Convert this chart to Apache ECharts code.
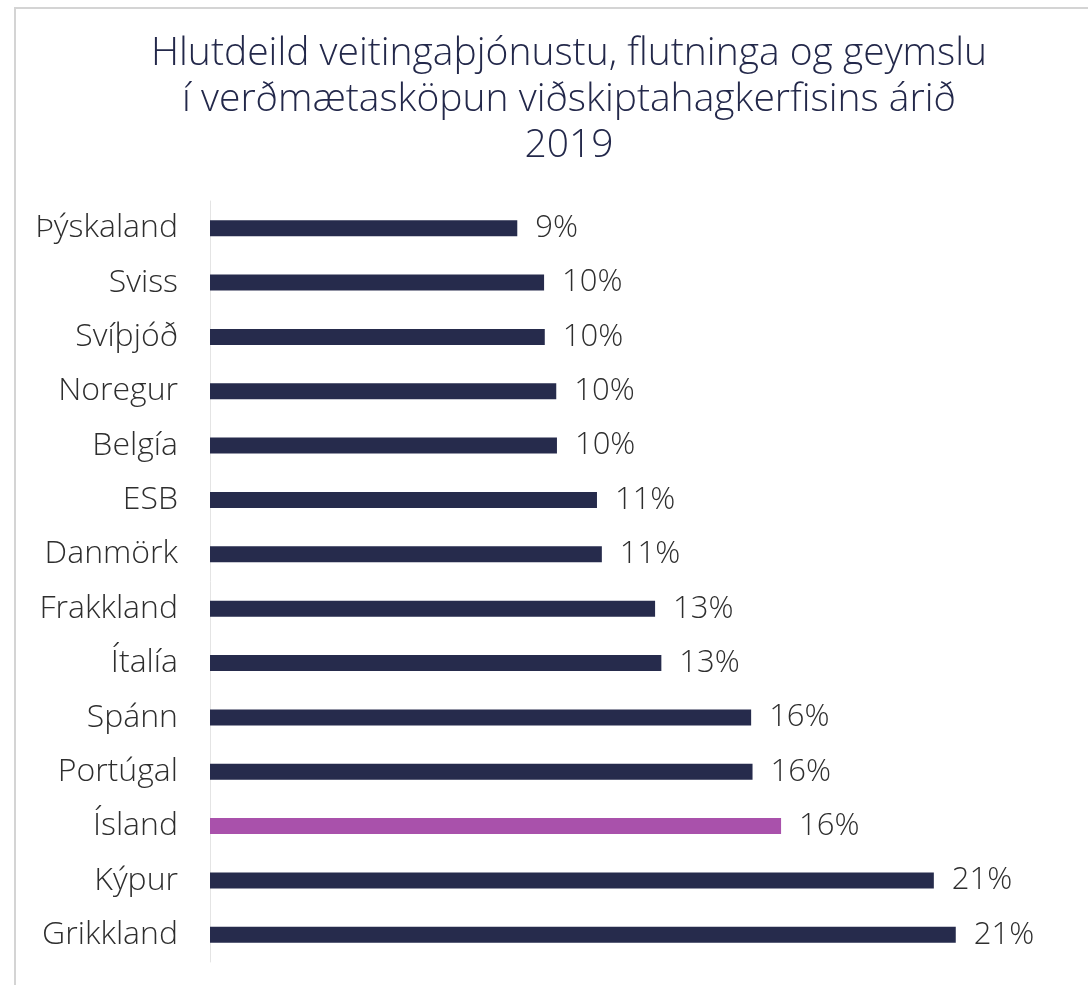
<!DOCTYPE html>
<html>
<head>
<meta charset="utf-8">
<script src="https://cdn.jsdelivr.net/npm/echarts@6/dist/echarts.min.js"></script>
<style>
  html, body { margin: 0; padding: 0; background: #fff; }
  #frame { position: absolute; left: 14px; top: 7px; right: 0; bottom: 0;
           border-left: 2px solid #d4d4d4; border-top: 2px solid #d4d4d4; }
  #main { position: absolute; left: 0; top: 0; width: 1088px; height: 985px; }
</style>
</head>
<body>
<div id="frame"></div>
<div id="main"></div>
<script>
// 國家 (由上而下)
const countries = ['Þýskaland', 'Sviss', 'Svíþjóð', 'Noregur', 'Belgía', 'ESB', 'Danmörk',
  'Frakkland', 'Ítalía', 'Spánn', 'Portúgal', 'Ísland', 'Kýpur', 'Grikkland'];
// 占比 (%)
const shares = [8.83, 9.60, 9.62, 9.95, 9.97, 11.12, 11.26, 12.79, 12.97, 15.55, 15.59, 16.41, 20.80, 21.43];
const highlight = 'Ísland';

const titleText = 'Hlutdeild veitingaþjónustu, flutninga og geymslu\ní verðmætasköpun viðskiptahagkerfisins árið\n2019';

const myChart = echarts.init(document.getElementById('main'));

const option = {
  backgroundColor: 'transparent',
  animation: false,
  title: {
    text: titleText,
    left: 564,
    top: 26,
    textAlign: 'center',
    textStyle: {
      fontFamily: 'Open Sans',
      fontWeight: 300,
      fontSize: 39,
      lineHeight: 46,
      color: '#23284a'
    }
  },
  grid: { left: 210, right: 8, top: 201, bottom: 23 },
  xAxis: {
    type: 'value',
    min: 0,
    max: 25,
    show: false
  },
  yAxis: {
    type: 'category',
    inverse: true,
    data: countries,
    axisLine: { show: true, lineStyle: { color: '#e4e4e4', width: 1 } },
    axisTick: { show: false },
    axisLabel: {
      margin: 32,
      fontFamily: 'Open Sans',
      fontWeight: 300,
      fontSize: 32,
      color: '#2e2e2e'
    }
  },
  series: [{
    type: 'bar',
    barWidth: 16,
    data: shares.map((v, i) => ({
      value: v,
      itemStyle: { color: countries[i] === highlight ? '#a951ab' : '#262b4c' }
    })),
    label: {
      show: true,
      position: 'right',
      distance: 18,
      fontFamily: 'Open Sans',
      fontWeight: 300,
      fontSize: 31,
      color: '#2e2e2e',
      formatter: p => Math.round(p.value) + '%'
    }
  }]
};

myChart.setOption(option);

window.addEventListener('resize', function() {
  myChart.resize();
});
</script>
</body>
</html>
